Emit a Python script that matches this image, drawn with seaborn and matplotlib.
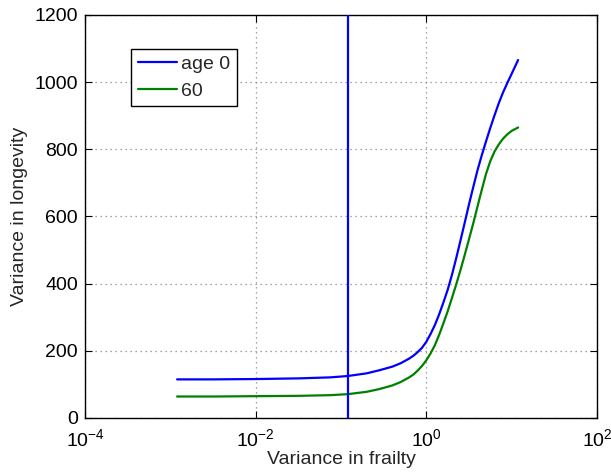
import numpy as np
import pandas as pd
import matplotlib
matplotlib.use("Agg")
import matplotlib.pyplot as plt
import seaborn as sns

# Variance in frailty (x) and variance in longevity for the two starting ages
frailty_var = [0.0012, 0.0032, 0.01, 0.032, 0.075, 0.12, 0.2, 0.28, 0.4, 0.5,
               0.63, 0.71, 0.79, 0.89, 1.0, 1.12, 1.26, 1.41, 1.58, 1.78,
               2.0, 2.24, 2.51, 2.82, 3.16, 3.55, 3.98, 4.47, 5.01, 5.62,
               6.31, 7.08, 7.94, 8.91, 10.0, 11.9]
longevity_age0 = [115, 115, 116, 118, 121, 125, 133, 142, 153, 163,
                  177, 186, 196, 209, 227, 250, 277, 308, 343, 382,
                  427, 476, 528, 582, 636, 688, 738, 783, 824, 864,
                  902, 938, 970, 998, 1025, 1066]
longevity_age60 = [64, 64, 65, 66, 68, 71, 78, 86, 97, 107,
                   121, 130, 141, 155, 172, 192, 217, 247, 281, 318,
                   358, 398, 440, 486, 532, 580, 630, 680, 727, 765,
                   794, 815, 832, 845, 855, 865]
series_labels = ["age 0", "60"]
series_colors = ["#0000ff", "#008000"]
marker_frailty = 0.12

x_ticks = [1e-4, 1e-2, 1e0, 1e2]
y_ticks = [0, 200, 400, 600, 800, 1000, 1200]

df = pd.DataFrame({
    "frailty": frailty_var * 2,
    "longevity": longevity_age0 + longevity_age60,
    "age": [series_labels[0]] * len(frailty_var) + [series_labels[1]] * len(frailty_var),
})

sns.set_theme(style="ticks")
plt.rcParams["font.family"] = ["Liberation Sans", "DejaVu Sans"]
plt.rcParams["mathtext.default"] = "regular"
fs = 14

fig = plt.figure(figsize=(6.11, 4.74), dpi=100)
ax = fig.add_axes([85 / 611, 1 - 418 / 474, 512 / 611, 403 / 474])

sns.lineplot(data=df, x="frailty", y="longevity", hue="age",
             hue_order=series_labels, palette=series_colors,
             linewidth=1.6, ax=ax, legend=True, zorder=3)
ax.axvline(marker_frailty, color=series_colors[0], linewidth=1.6, zorder=3)

ax.set_xscale("log")
ax.set_xlim(x_ticks[0], x_ticks[-1])
ax.set_ylim(y_ticks[0], y_ticks[-1])
ax.set_xticks(x_ticks)
ax.set_yticks(y_ticks)
ax.minorticks_off()
ax.xaxis.set_minor_locator(matplotlib.ticker.NullLocator())

ax.grid(True, which="major", color="#888888", linestyle=(0, (1, 3)), linewidth=0.9)
ax.tick_params(direction="in", top=True, right=True, length=5, width=0.8,
               labelsize=fs, colors="black", pad=5)
ax.tick_params(axis="x", pad=7)
for s in ax.spines.values():
    s.set_color("black")
    s.set_linewidth(1.0)
    s.set_visible(True)

ax.set_xlabel("Variance in frailty", fontsize=fs, labelpad=1)
ax.set_ylabel("Variance in longevity", fontsize=fs, labelpad=5)

handles, labels = ax.get_legend_handles_labels()
leg = ax.legend(handles, labels, loc="upper left", bbox_to_anchor=(0.09, 0.916),
                borderaxespad=0, fontsize=fs, frameon=True, fancybox=False,
                edgecolor="black", framealpha=1, handlelength=2.0,
                handletextpad=0.2, borderpad=0.35, labelspacing=0.45)
leg.get_frame().set_linewidth(1.0)

fig.savefig("out.png", dpi=100)
